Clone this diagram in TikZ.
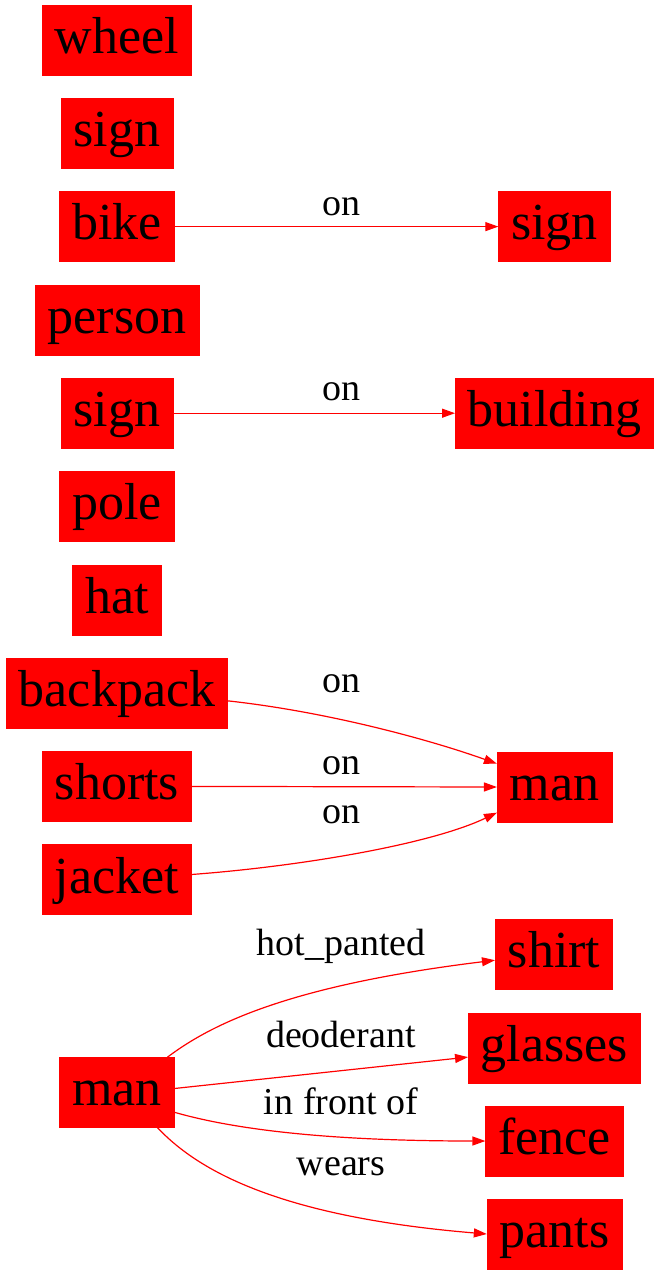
\documentclass[tikz,border=0pt]{standalone}
\usepackage{fontspec}
\setmainfont{Liberation Serif}
\usepackage{xcolor}
\usepackage{tikz}
\usetikzlibrary{arrows.meta}

\tikzset{
  obj/.style={draw=red,fill=red,text=black,inner xsep=9.4pt,inner ysep=0pt,
    minimum height=52.5pt,text height=27pt,text depth=7pt,
    font=\fontsize{39}{44}\selectfont},
  rel/.style={draw=red,line width=0.9pt,-{Triangle[length=9.75pt,width=6.75pt]}},
  lbl/.style={anchor=base,inner sep=0pt,font=\fontsize{28.5}{32}\selectfont}
}

\begin{document}
\begin{tikzpicture}[x=0.75pt,y=0.75pt,yscale=-1,xscale=1]
\useasboundingbox (0,0) rectangle (660,1275);
% Object Nodes, left
\node [obj] (wheel) at (117,40) {wheel};
\node [obj] (signa) at (117,133.3) {sign};
\node [obj] (bike) at (117,226.6) {bike};
\node [obj] (person) at (117,319.9) {person};
\node [obj] (signb) at (117,413.2) {sign};
\node [obj] (pole) at (117,506.5) {pole};
\node [obj] (hat) at (117,599.8) {hat};
\node [obj] (backpack) at (117,693.1) {backpack};
\node [obj] (shorts) at (117,786.4) {shorts};
\node [obj] (jacket) at (117,879.7) {jacket};
\node [obj] (mana) at (117,1092.5) {man};
% Object Nodes, right
\node [obj] (signc) at (554.5,226.6) {sign};
\node [obj] (building) at (554.5,413.2) {building};
\node [obj] (manb) at (554.5,787) {man};
\node [obj] (shirt) at (554,954) {shirt};
\node [obj] (glasses) at (554.5,1048) {glasses};
\node [obj] (fence) at (554.5,1141) {fence};
\node [obj] (pants) at (554.5,1234) {pants};
%Straight Lines
\draw [rel] (bike.east) -- (signc.west);
\draw [rel] (signb.east) -- (building.west);
\draw [rel] (shorts.east) -- (manb.west);
\draw [rel] (mana.4.5) -- (glasses.186);
%Curve Lines
\draw [rel] (backpack.-4.6) .. controls +(100,11) and +(-67,-24) .. (manb.158);
\draw [rel] (jacket.4) .. controls +(107,-8) and +(-67,32) .. (manb.204);
\draw [rel] (mana.35) .. controls +(45,-34) and +(-204,25) .. (shirt.186);
\draw [rel] (mana.-19) .. controls +(56,16) and +(-165,0) .. (fence.west);
\draw [rel] (mana.-41.7) .. controls +(37,39) and +(-216,-18) .. (pants.west);
% Text Node
\node [lbl] (onbike) at (341.5,215) {on};
\node [lbl] (onsign) at (341.5,400.7) {on};
\node [lbl] (onbackpack) at (341.5,692.7) {on};
\node [lbl] (onshorts) at (341.5,774) {on};
\node [lbl] (onjacket) at (341.5,823) {on};
\node [lbl] (hotpanted) at (341,955) {hot\_panted};
\node [lbl] (deoderant) at (341,1047.7) {deoderant};
\node [lbl] (infront) at (341,1114) {in front of};
\node [lbl] (wears) at (341,1175) {wears};
\end{tikzpicture}
\end{document}
